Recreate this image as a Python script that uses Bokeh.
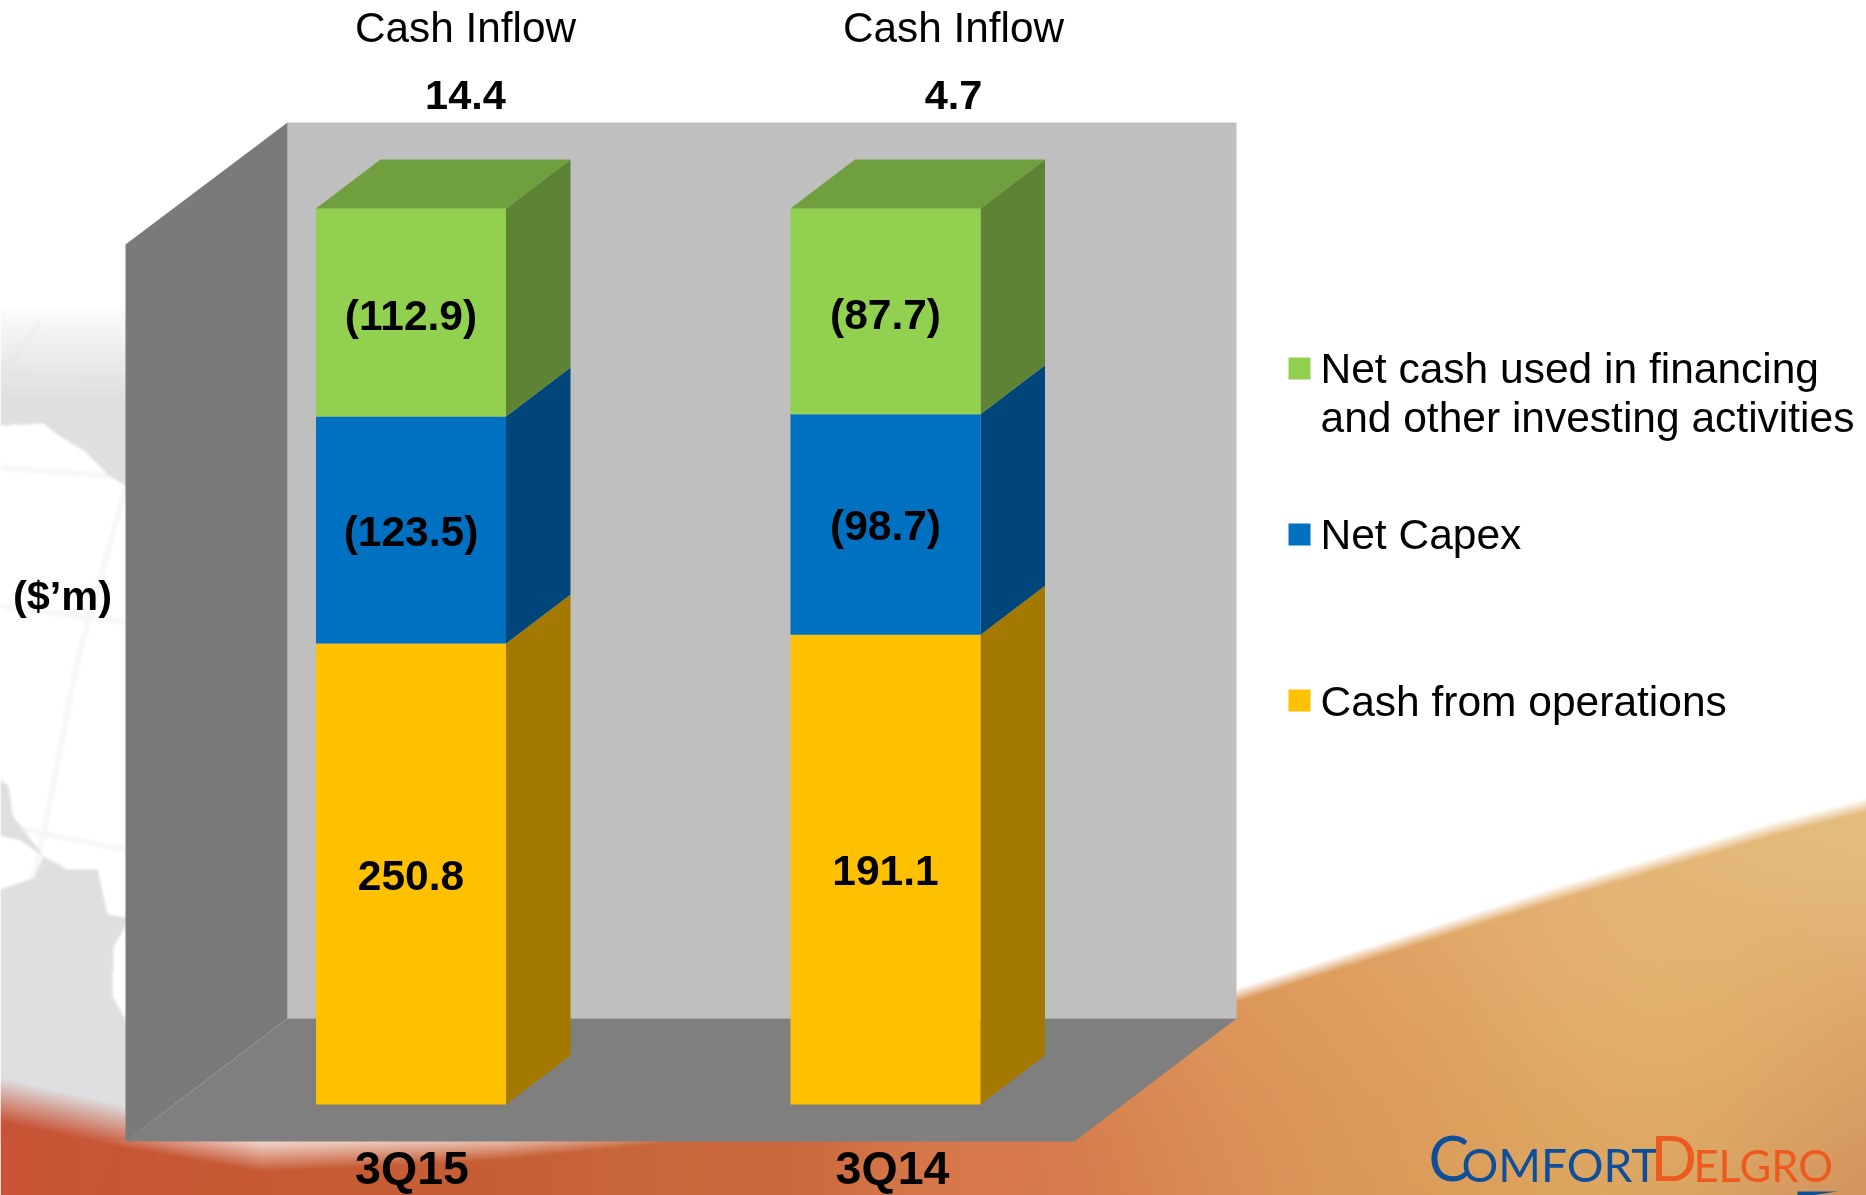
import numpy as np
from bokeh.core.properties import value
from bokeh.embed import file_html
from bokeh.models import Range1d
from bokeh.plotting import figure
from bokeh.resources import INLINE

# ---- chart values -------------------------------------------------------
quarters = ["3Q15", "3Q14"]
series_names = ["Cash from operations", "Net Capex", "Net cash used in financing"]
cash_from_operations = [250.8, 191.1]
net_capex = [-123.5, -98.7]
net_financing_other = [-112.9, -87.7]
net_cash_inflow = [14.4, 4.7]
share_operations = [51.45, 52.42]
share_capex = [25.33, 24.62]
share_financing = [23.22, 22.96]
legend_labels = ["Net cash used in financing\nand other investing activities", "Net Capex", "Cash from operations"]

# ---- layout -------------------------------------------------------------
W, H = 1866, 1195
PX_PER_PCT = 8.96
ZERO_PX = 1104.0
def yd(px):
    return (ZERO_PX - np.asarray(px, dtype=float)) / PX_PER_PCT

BAR_X0, BAR_STEP, BAR_W = 315.5, 474.5, 190.0
BAR_DX, BAR_DY = 64.5, 49.0 / PX_PER_PCT

FRONT = ["#FFC000", "#0070C0", "#92D050"]
SIDE = ["#A47900", "#00467A", "#5E8334"]
TOP = "#6F9F3E"
FONT = value("Liberation Sans")

p = figure(width=W, height=H, x_range=Range1d(0, W), y_range=Range1d(float(yd(H)), float(yd(0))),
           output_backend="svg", toolbar_location=None, min_border=0,
           background_fill_color="white", border_fill_color="white", outline_line_color=None)
p.axis.visible = False
p.grid.visible = False
p.styles = {"position": "fixed", "left": "0px", "top": "0px"}

def to_rgba(rgb, alpha):
    h, w = alpha.shape
    out = np.zeros((h, w), dtype=np.uint32)
    v = out.view(np.uint8).reshape(h, w, 4)
    v[..., :3] = np.clip(rgb, 0, 255).astype(np.uint8)
    v[..., 3] = (np.clip(alpha, 0, 1) * 255).astype(np.uint8)
    return np.flipud(out)

def blur(a, r):
    k = np.ones(2 * r + 1) / (2 * r + 1)
    for _ in range(2):
        a = np.apply_along_axis(lambda m: np.convolve(np.pad(m, r, mode="edge"), k, mode="valid"), 0, a)
        a = np.apply_along_axis(lambda m: np.convolve(np.pad(m, r, mode="edge"), k, mode="valid"), 1, a)
    return a

# ---- faint globe background (left strip), soft like the reference --------
SX, SY, SW, SH = 0, 280, 130, 860
mx, my = np.meshgrid(np.arange(SW) + 0.5, np.arange(SH) + SY + 0.5)

def poly_mask(xs, ys):
    inside = np.zeros(mx.shape, dtype=bool)
    n = len(xs)
    for i in range(n):
        x1, y1, x2, y2 = xs[i], ys[i], xs[(i + 1) % n], ys[(i + 1) % n]
        if y1 == y2:
            continue
        cond = ((y1 > my) != (y2 > my)) & (mx < (x2 - x1) * (my - y1) / (y2 - y1) + x1)
        inside ^= cond
    return inside.astype(float)

def seg_mask(xs, ys, width):
    best = np.full(mx.shape, 1e9)
    for i in range(len(xs) - 1):
        ax, ay, bx, by = xs[i], ys[i], xs[i + 1], ys[i + 1]
        t = np.clip(((mx - ax) * (bx - ax) + (my - ay) * (by - ay)) / ((bx - ax) ** 2 + (by - ay) ** 2), 0, 1)
        best = np.minimum(best, np.hypot(mx - ax - t * (bx - ax), my - ay - t * (by - ay)))
    return (best < width / 2).astype(float)

land_polys = [([0, 130, 130, 110, 83, 57, 43, 0], [280, 280, 488, 476, 450, 434, 423, 425]),
              ([0, 33, 43, 67, 97, 107, 130, 113, 112, 130, 130, 0],
               [889, 878, 856, 869, 869, 914, 918, 946, 996, 1028, 1140, 1140]),
              ([0, 8, 12, 35, 43, 20, 0], [780, 785, 815, 845, 856, 840, 835])]
grid_lines = [([0, 130], [374, 380]), ([0, 130], [467, 477]), ([0, 130], [606, 622]), ([0, 130], [825, 850]),
              ([0, 37], [374, 325]), ([130, 77, 43, 10, 0], [470, 660, 833, 980, 1030]), ([0, 125], [1067, 1094])]
land = np.zeros(mx.shape)
for xs, ys in land_polys:
    land = np.maximum(land, poly_mask(xs, ys))
land = blur(land, 1)
land = land * np.clip((my - 305) / 95, 0, 1) ** 0.8          # top of the globe fades out
lines = np.zeros(mx.shape)
for xs, ys in grid_lines:
    lines = np.maximum(lines, seg_mask(xs, ys, 6))
lines = blur(lines, 1) * 0.24
globe_a = 1 - (1 - land) * (1 - lines)
globe_rgb = np.broadcast_to(np.array([0xDF, 0xDE, 0xE0]), (SH, SW, 3))
p.image_rgba(image=[to_rgba(globe_rgb, globe_a)], x=SX, y=float(yd(SY + SH)), dw=SW, dh=SH / PX_PER_PCT)

# ---- orange swoosh ------------------------------------------------------
gh, gw = H // 2 + 1, W // 2 + 1
gx, gy = np.meshgrid(np.arange(gw) * 2.0, np.arange(gh) * 2.0)
edge_x = [0, 125, 260, 500, 700, 1000, 1237, 1552, 1773, 1866]
edge_y = [1098, 1126, 1150, 1142, 1125, 1060, 993, 893, 827, 803]
edge = np.interp(gx, edge_x, edge_y)
soft = np.interp(gx, [0, 300, 700, 1235, 1866], [44, 40, 26, 14, 14])
alpha = np.clip((gy - edge) / soft + 0.5, 0, 1)
samples = np.array([
    (0, 1190, 0xC8, 0x52, 0x35), (60, 1150, 0xC9, 0x55, 0x38), (200, 1190, 0xC6, 0x5A, 0x34),
    (450, 1190, 0xC6, 0x5E, 0x35), (700, 1185, 0xC9, 0x68, 0x3A), (1000, 1185, 0xD7, 0x78, 0x4B),
    (1190, 1130, 0xD7, 0x7F, 0x4D), (1276, 1027, 0xDE, 0x9F, 0x5F), (1309, 1071, 0xDF, 0x95, 0x59),
    (1309, 1178, 0xD8, 0x94, 0x5A), (1428, 1071, 0xDE, 0x9B, 0x5A), (1428, 1142, 0xDC, 0xA2, 0x59),
    (1552, 960, 0xE5, 0xB3, 0x77), (1606, 1071, 0xE0, 0xB0, 0x66), (1666, 952, 0xE5, 0xB8, 0x7A),
    (1718, 1027, 0xE2, 0xB4, 0x6C), (1785, 1071, 0xE0, 0xAE, 0x64), (1845, 1166, 0xCC, 0x84, 0x58),
    (1600, 1170, 0xD9, 0xA0, 0x5C), (1860, 1050, 0xD9, 0xA2, 0x68), (1840, 880, 0xE6, 0xBF, 0x83),
    (1400, 960, 0xE2, 0xA8, 0x6C),
], dtype=float)
d2 = (gx[..., None] - samples[:, 0]) ** 2 + (gy[..., None] - samples[:, 1]) ** 2
wt = np.exp(-d2 / (2 * 95.0 ** 2)) + 1e-9
rgb = (wt[..., None] * samples[:, 2:]).sum(axis=2) / wt.sum(axis=2)[..., None]
p.image_rgba(image=[to_rgba(rgb, alpha)], x=0, y=float(yd(gh * 2)), dw=gw * 2, dh=gh * 2 / PX_PER_PCT)

# ---- 3D chart box -------------------------------------------------------
WALL_L, WALL_R, WALL_TOP, WALL_BOT = 287, 1236, 122, 1018
FRONT_L, FRONT_R, FRONT_TOP, FRONT_BOT = 125, 1074, 244, 1141
p.patch([WALL_L, WALL_R, WALL_R, WALL_L], yd([WALL_TOP, WALL_TOP, WALL_BOT, WALL_BOT]),
        fill_color="#BFBFBF", line_color=None)
p.patch([FRONT_L, WALL_L, WALL_L, FRONT_L], yd([FRONT_TOP, WALL_TOP, WALL_BOT, FRONT_BOT]),
        fill_color="#7A7A7A", line_color=None)
p.patch([FRONT_L, WALL_L, WALL_R, FRONT_R], yd([FRONT_BOT, WALL_BOT, WALL_BOT, FRONT_BOT]),
        fill_color="#7F7F7F", line_color=None)
p.line([WALL_L, WALL_R], yd([WALL_BOT, WALL_BOT]), line_color="#A6A6A6", line_width=1)

# ---- stacked 3D bars ----------------------------------------------------
stack = [share_operations, share_capex, share_financing]
labels = [[f"{v:.1f}" for v in cash_from_operations],
          [f"({-v:.1f})" for v in net_capex],
          [f"({-v:.1f})" for v in net_financing_other]]
label_nudge = [1, 1, 3]
for i in range(len(quarters)):
    x0 = BAR_X0 + i * BAR_STEP
    x1 = x0 + BAR_W
    bottom = 0.0
    for s in range(3):
        top = bottom + stack[s][i]
        p.patch([x1, x1 + BAR_DX, x1 + BAR_DX, x1],
                [bottom, bottom + BAR_DY, top + BAR_DY, top], fill_color=SIDE[s], line_color=None)
        p.quad(left=x0, right=x1, bottom=bottom, top=top, fill_color=FRONT[s], line_color=None)
        p.text(x=[(x0 + x1) / 2], y=[(bottom + top) / 2], text=[labels[s][i]], text_font=FONT,
               text_font_style="bold", text_font_size="42.5px", text_color="black",
               text_align="center", text_baseline="middle", y_offset=label_nudge[s])
        bottom = top
    p.patch([x0, x0 + BAR_DX, x1 + BAR_DX, x1], [bottom, bottom + BAR_DY, bottom + BAR_DY, bottom],
            fill_color=TOP, line_color=None)

# ---- header and category text -------------------------------------------
hdr_x = [465, 953]
p.text(x=hdr_x, y=yd([27, 27]), text=["Cash Inflow"] * 2, text_font=FONT, text_font_size="42.3px",
       text_color="black", text_align="center", text_baseline="middle")
p.text(x=hdr_x, y=yd([94, 94]), text=[f"{v:.1f}" for v in net_cash_inflow], text_font=FONT,
       text_font_style="bold", text_font_size="41.5px", text_color="black",
       text_align="center", text_baseline="middle")
p.text(x=[411.5, 892], y=yd([1167.5, 1167.5]), text=quarters, text_font=FONT, text_font_style="bold",
       text_font_size="46.5px", text_color="black", text_align="center", text_baseline="middle")
p.text(x=[62], y=yd([595]), text=["($’m)"], text_font=FONT, text_font_style="bold", text_font_size="41.5px",
       text_color="black", text_align="center", text_baseline="middle")

# ---- legend -------------------------------------------------------------
sq_y = [368, 534, 700]
sq_c = [FRONT[2], FRONT[1], FRONT[0]]
p.quad(left=[1288] * 3, right=[1310] * 3, top=yd([v - 11 for v in sq_y]), bottom=yd([v + 11 for v in sq_y]),
       fill_color=sq_c, line_color=None)
leg_lines = legend_labels[0].split("\n") + legend_labels[1:]
p.text(x=[1320] * 4, y=yd([368, 417, 534, 701]), text=leg_lines, text_font=FONT, text_font_size="42.5px",
       text_color="black", text_align="left", text_baseline="middle")

# ---- logo ---------------------------------------------------------------
LOGO = value("Lato")
p.text(x=[1428], y=yd([1157]), text=["C"], text_font=LOGO, text_font_size="61px", text_color="#0F4E9B",
       text_align="left", text_baseline="middle")
p.text(x=[1461], y=yd([1164]), text=["OMFORT"], text_font=LOGO, text_font_size="46px", text_color="#0F4E9B",
       text_align="left", text_baseline="middle")
p.text(x=[1650], y=yd([1157]), text=["D"], text_font=LOGO, text_font_size="61px", text_color="#EC5A1E",
       text_align="left", text_baseline="middle")
p.text(x=[1693], y=yd([1164]), text=["ELGRO"], text_font=LOGO, text_font_size="43.5px", text_color="#EC5A1E",
       text_align="left", text_baseline="middle")
p.patch([1797, 1837, 1810, 1797], yd([1191, 1191, 1195, 1195]), fill_color="#0F4E9B", line_color=None)

open("out.html", "w").write(file_html(p, INLINE))
